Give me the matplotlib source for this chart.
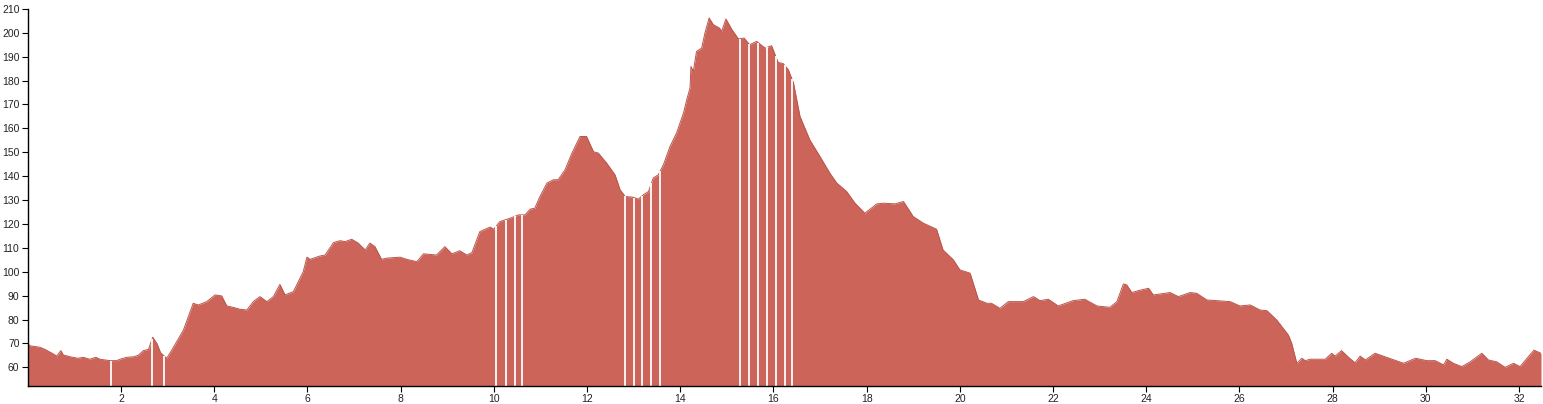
import numpy as np
import matplotlib
matplotlib.use("Agg")
from matplotlib import pyplot as plt

# distance along the route (km) and elevation (m)
km = [0.0, 0.05, 0.26, 0.37, 0.55, 0.62, 0.71, 0.76, 0.91, 1.08, 1.19, 1.33, 1.46, 1.55,
      1.76, 1.91, 1.98, 2.12, 2.26, 2.37, 2.48, 2.59, 2.68, 2.77, 2.85, 2.98, 3.09, 3.34,
      3.55, 3.66, 3.84, 4.02, 4.16, 4.27, 4.41, 4.55, 4.70, 4.84, 4.98, 5.13, 5.27, 5.41,
      5.52, 5.70, 5.91, 5.99, 6.06, 6.27, 6.38, 6.56, 6.70, 6.81, 6.95, 7.09, 7.24, 7.34,
      7.45, 7.59, 7.70, 7.99, 8.13, 8.35, 8.49, 8.77, 8.95, 9.10, 9.27, 9.42, 9.53, 9.70,
      9.92, 10.00, 10.13, 10.35, 10.53, 10.67, 10.78, 10.88, 10.99, 11.14, 11.28, 11.38,
      11.53, 11.67, 11.85, 11.99, 12.14, 12.24, 12.42, 12.60, 12.71, 12.82, 12.99, 13.10,
      13.21, 13.32, 13.42, 13.53, 13.64, 13.78, 13.92, 14.07, 14.14, 14.21, 14.23, 14.28,
      14.35, 14.46, 14.53, 14.62, 14.71, 14.84, 14.89, 14.98, 15.11, 15.25, 15.37, 15.49,
      15.64, 15.82, 15.96, 16.10, 16.21, 16.32, 16.43, 16.57, 16.78, 17.00, 17.21, 17.36,
      17.57, 17.75, 17.96, 18.22, 18.36, 18.61, 18.79, 19.00, 19.22, 19.50, 19.64, 19.86,
      20.00, 20.22, 20.40, 20.58, 20.68, 20.86, 21.04, 21.36, 21.58, 21.72, 21.90, 22.11,
      22.43, 22.68, 22.94, 23.22, 23.37, 23.51, 23.58, 23.69, 23.83, 24.05, 24.15, 24.30,
      24.51, 24.69, 24.94, 25.08, 25.30, 25.51, 25.80, 26.01, 26.23, 26.44, 26.59, 26.80,
      26.94, 27.05, 27.12, 27.23, 27.34, 27.41, 27.52, 27.84, 27.98, 28.05, 28.19, 28.34,
      28.48, 28.59, 28.70, 28.91, 29.27, 29.52, 29.78, 30.02, 30.20, 30.38, 30.45, 30.59,
      30.77, 30.95, 31.20, 31.34, 31.52, 31.70, 31.88, 32.02, 32.17, 32.32, 32.47]
elev = [69.8, 69.0, 68.4, 67.5, 65.6, 64.7, 67.0, 65.2, 64.4, 63.8, 64.2, 63.4, 64.2, 63.4,
        62.8, 62.8, 63.4, 64.2, 64.4, 65.0, 67.0, 67.5, 72.6, 70.0, 66.1, 63.8, 67.2, 75.6,
        86.8, 86.1, 87.5, 90.3, 89.9, 85.7, 85.1, 84.3, 84.0, 87.5, 89.6, 87.5, 89.6, 94.7,
        90.3, 91.7, 100.0, 106.1, 105.2, 106.6, 107.0, 112.2, 113.0, 112.6, 113.6, 112.0, 109.1, 112.0,
        110.5, 105.2, 105.7, 106.1, 105.2, 104.2, 107.5, 107.0, 110.5, 107.5, 108.8, 107.0, 108.0, 116.8,
        118.7, 117.8, 121.0, 122.4, 123.8, 123.8, 126.2, 126.6, 131.5, 137.1, 138.5, 138.5,
        142.7, 149.4, 156.6, 156.6, 150.2, 149.7, 145.5, 140.6, 134.3, 131.5, 131.2, 130.4,
        132.2, 133.6, 139.2, 140.6, 144.8, 152.4, 158.0, 166.4, 172.0, 176.9, 185.9, 183.8,
        192.2, 193.6, 199.9, 206.2, 203.4, 202.0, 200.6, 205.8, 201.3, 197.4, 197.8, 195.0,
        196.4, 193.6, 194.6, 187.6, 187.1, 184.5, 179.0, 165.0, 155.2, 148.2, 141.3, 137.1,
        133.6, 128.7, 124.5, 128.4, 128.7, 128.4, 129.4, 123.1, 120.3, 117.8, 109.1, 105.0,
        100.8, 99.4, 88.2, 86.8, 86.8, 84.7, 87.5, 87.5, 89.6, 87.9, 88.5, 85.7,
        87.9, 88.5, 85.7, 85.1, 87.5, 94.9, 94.5, 91.3, 92.1, 93.1, 90.3, 90.7,
        91.3, 89.6, 91.3, 91.0, 88.2, 87.9, 87.5, 85.7, 86.1, 84.0, 83.7, 79.8,
        76.3, 73.5, 70.1, 61.7, 63.8, 62.8, 63.4, 63.4, 65.9, 64.7, 67.0, 64.2,
        61.9, 64.7, 63.1, 65.9, 63.4, 61.7, 63.8, 62.8, 62.8, 61.0, 63.4, 61.7,
        60.3, 62.3, 65.9, 63.1, 62.3, 60.0, 61.7, 60.3, 63.8, 67.2, 65.9]

# positions (km) where the profile has missing samples
gaps = [1.78, 2.67, 2.92, 10.05, 10.26, 10.46, 10.61, 12.82, 13.01, 13.19, 13.38, 13.57,
        15.28, 15.47, 15.67, 15.86, 16.05, 16.24, 16.40]

x_ticks = list(range(2, 33, 2))
y_ticks = list(range(60, 211, 10))

FILL = "#cd645a"
Y_MIN, Y_MAX = 52.2, 210

plt.rcParams["font.family"] = ["Liberation Sans", "DejaVu Sans"]

fig = plt.figure(figsize=(15.43, 4.04), dpi=100)
ax = fig.add_axes([0.018, 0.0446, 0.9807, 0.9334])

ax.fill_between(km, elev, Y_MIN, color=FILL, linewidth=0)
ax.plot(km, elev, color="#b9554b", linewidth=0.7)

gap_top = np.interp(gaps, km, elev)
ax.vlines(gaps, Y_MIN, gap_top, color="white", linewidth=1.3)

ax.set_xlim(0, km[-1])
ax.set_ylim(Y_MIN, Y_MAX)
ax.set_xticks(x_ticks)
ax.set_yticks(y_ticks)

for side in ["top", "right"]:
    ax.spines[side].set_visible(False)
for side in ["left", "bottom"]:
    ax.spines[side].set_linewidth(1.0)
    ax.spines[side].set_color("black")

ax.tick_params(axis="both", direction="out", length=4, width=0.8,
               labelsize=7.5, labelcolor="#222222", pad=2)

fig.savefig("out.png", dpi=100)
